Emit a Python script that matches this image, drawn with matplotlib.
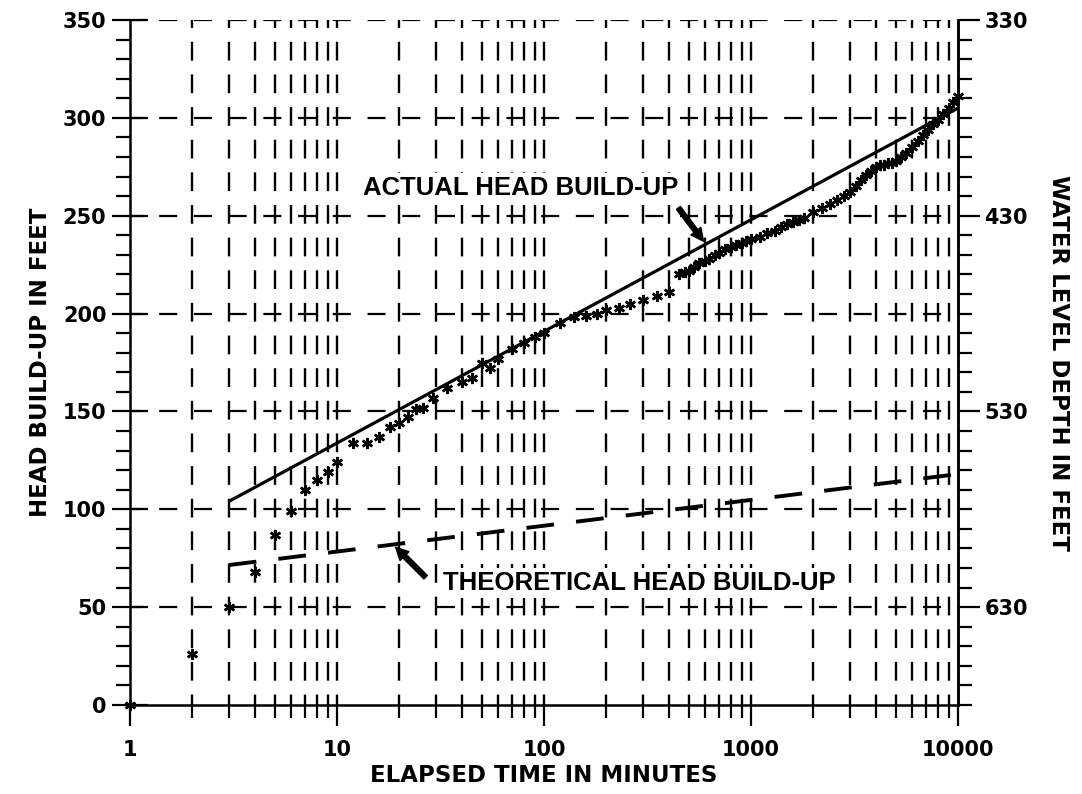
import matplotlib
matplotlib.use("Agg")
import matplotlib.pyplot as plt
import numpy as np
from matplotlib.ticker import FixedLocator, NullFormatter, FixedFormatter

plt.rcParams['lines.scale_dashes'] = False

# ---------------- data ----------------
obs_time = [1, 2, 3, 4, 5, 6, 7, 8, 9, 10, 12, 14, 16, 18, 20, 22, 24, 26, 29, 34,
            40, 45, 50, 55, 60, 70, 80, 90, 100, 120, 140, 160, 180, 200, 230, 260,
            300, 350, 400,
            450, 480, 500, 530, 560, 600, 630, 670, 700, 750, 800, 850, 900, 950,
            1000, 1100, 1200, 1300, 1400, 1500, 1600, 1700, 1800, 2000, 2200, 2400,
            2600, 2800, 3000, 3200, 3400, 3600, 3800, 4000, 4200, 4400, 4600, 4800,
            5000, 5300, 5600, 6000, 6400, 6800, 7200, 7600, 8000, 8500, 9000, 9500,
            10000]
obs_head = [0, 26, 50, 68, 87, 99, 110, 115, 119, 124, 134, 134, 137, 142, 144, 147,
            151, 152, 157, 162, 165, 167, 175, 172, 177, 182, 185, 188, 190, 195, 198,
            199, 200, 202, 203, 205, 207, 209, 211,
            220, 221, 222, 224, 226, 227, 228, 230, 231, 233, 234, 235, 236, 237,
            238, 239, 241, 242, 244, 246, 247, 248, 249, 252, 254, 256,
            258, 260, 262, 265, 268, 271, 273, 275, 276, 276, 277, 277,
            278, 280, 282, 285, 288, 291, 294, 297, 299, 302, 305, 308,
            311]

actual_fit_time = [3, 10000]
actual_fit_head = [104, 305]

theory_time = [3, 10000]
theory_head = [71.5, 118]

x_tick_vals = [1, 10, 100, 1000, 10000]
x_tick_labels = ["1", "10", "100", "1000", "10000"]
left_tick_vals = [0, 50, 100, 150, 200, 250, 300, 350]
right_tick_vals = [330, 430, 530, 630]

# ---------------- figure ----------------
fig = plt.figure(figsize=(10.82, 7.94), dpi=100)
ax = fig.add_axes([130/1082, 1-705/794, (958-130)/1082, (705-20)/794])
ax.set_xscale('log')
ax.set_xlim(1, 10000)
ax.set_ylim(0, 350)

tick_font = dict(family='DejaVu Sans', weight='bold', size=15)

# grid lines (dashed)
hdash = (4, (13, 12))
for yv in [50, 100, 150, 200, 250, 300, 350]:
    ax.axhline(yv, color='black', lw=1.6, linestyle=hdash, zorder=1)
vgrid = [m * 10**d for d in range(4) for m in range(2, 11)]
vgrid = [v for v in vgrid if v < 10000]
vdash = (6, (13.5, 10))
for xv in vgrid:
    ax.axvline(xv, color='black', lw=1.7, linestyle=vdash, zorder=1)

# spines
ax.spines['top'].set_visible(False)
for s in ['left', 'right', 'bottom']:
    ax.spines[s].set_linewidth(1.8)

# x ticks
ax.xaxis.set_major_locator(FixedLocator(x_tick_vals))
ax.xaxis.set_major_formatter(FixedFormatter(x_tick_labels))
ax.xaxis.set_minor_locator(FixedLocator(vgrid))
ax.xaxis.set_minor_formatter(NullFormatter())
ax.tick_params(axis='x', which='major', direction='out', length=15, width=1.6, pad=10)
ax.tick_params(axis='x', which='minor', direction='out', length=9, width=1.6)
for lab in ax.get_xticklabels():
    lab.set(**tick_font)

# left y ticks
ax.yaxis.set_major_locator(FixedLocator(left_tick_vals))
ax.yaxis.set_minor_locator(FixedLocator(list(range(0, 351, 10))))
ax.yaxis.set_minor_formatter(NullFormatter())
ax.tick_params(axis='y', which='major', direction='inout', length=26, width=1.6, pad=4)
ax.tick_params(axis='y', which='minor', direction='out', length=10, width=1.6)
ax.set_yticklabels([str(v) for v in left_tick_vals])
for lab in ax.get_yticklabels():
    lab.set(**tick_font)

# right axis
ax2 = ax.twinx()
ax2.set_ylim(680, 330)
for s in ['top', 'left', 'bottom']:
    ax2.spines[s].set_visible(False)
ax2.spines['right'].set_linewidth(1.8)
ax2.yaxis.set_major_locator(FixedLocator(right_tick_vals))
ax2.yaxis.set_minor_locator(FixedLocator(list(range(330, 681, 10))))
ax2.yaxis.set_minor_formatter(NullFormatter())
ax2.tick_params(axis='y', which='major', direction='out', length=16, width=1.6, pad=3)
ax2.tick_params(axis='y', which='minor', direction='out', length=10, width=1.6)
ax2.set_yticklabels([str(v) for v in right_tick_vals])
for lab in ax2.get_yticklabels():
    lab.set(**tick_font)

# data
ax.plot(actual_fit_time, actual_fit_head, color='black', lw=2.3, zorder=3,
        solid_capstyle='butt')
ax.plot(theory_time, theory_head, color='black', lw=2.8, linestyle=(0, (20, 16)),
        zorder=3, dash_capstyle='butt')
ax.plot(obs_time, obs_head, linestyle='none', marker=(6, 2, 0), markersize=8,
        markeredgewidth=1.8, color='black', zorder=4, clip_on=False)

# annotations
ann_font = dict(family='Liberation Sans', weight='bold', size=18.5)
box = dict(facecolor='white', edgecolor='none', pad=2)
ax.text(13.3, 264, "ACTUAL HEAD BUILD-UP", ha='left', va='center', bbox=box,
        zorder=5, **ann_font)
ax.text(32.4, 62.2, "THEORETICAL HEAD BUILD-UP", ha='left', va='center', bbox=box,
        zorder=5, **ann_font)
ax.annotate("", xy=(589, 237), xytext=(446, 254), zorder=5,
            arrowprops=dict(arrowstyle='simple,head_length=0.9,head_width=0.9,tail_width=0.35',
                            color='black', shrinkA=0, shrinkB=0))
ax.annotate("", xy=(19.2, 80.6), xytext=(26.8, 65.3), zorder=5,
            arrowprops=dict(arrowstyle='simple,head_length=0.9,head_width=0.9,tail_width=0.35',
                            color='black', shrinkA=0, shrinkB=0))

# axis labels
lab_font = dict(family='DejaVu Sans', weight='bold', size=16.5)
ax.set_xlabel("ELAPSED TIME IN MINUTES", labelpad=3, **lab_font)
ax.set_ylabel("HEAD BUILD-UP IN FEET", labelpad=8, **lab_font)
ax2.set_ylabel("WATER LEVEL DEPTH IN FEET", rotation=-90, labelpad=30, **lab_font)

fig.savefig("out.png", dpi=100)
